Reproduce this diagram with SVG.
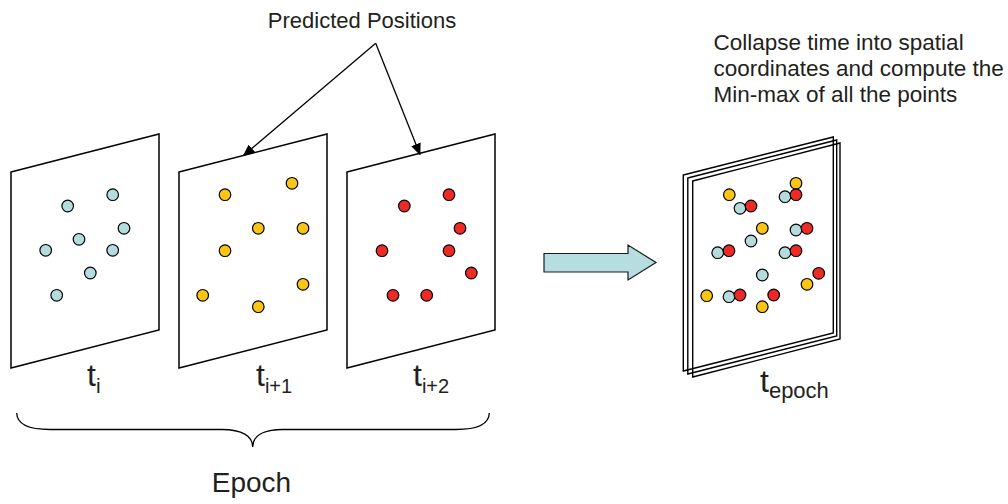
<svg xmlns="http://www.w3.org/2000/svg" width="1008" height="504" viewBox="0 0 1008 504">
  <style>
    .frame { fill: #ffffff; stroke: #000000; stroke-width: 1.5; stroke-linejoin: miter; }
    .stack { fill: none; stroke: #000000; stroke-width: 1.4; }
    .dot { stroke: #000000; stroke-width: 1.2; }
    .b { fill: #b4dcdc; }
    .y { fill: #fcc514; }
    .r { fill: #ed2a25; }
    .lbl { font-family: "Liberation Sans", Arial, sans-serif; fill: #231f20; }
    .pointer { fill: none; stroke: #000000; stroke-width: 1.3; }
  </style>
  <defs>
    <marker id="tip" viewBox="0 0 12 10" refX="11" refY="5" markerWidth="12" markerHeight="10" markerUnits="userSpaceOnUse" orient="auto">
      <path d="M0,0 L12,5 L0,10 Z" fill="#000000"/>
    </marker>
  </defs>
  <rect width="1008" height="504" fill="#ffffff"/>

  <!-- frame at time t_i -->
  <g id="frame-ti">
    <polygon class="frame" points="11,172 159,134 159,330 11,368"/>
    <circle class="dot b" cx="67.7" cy="206" r="5.8"/>
    <circle class="dot b" cx="112.7" cy="194.7" r="5.8"/>
    <circle class="dot b" cx="124" cy="228.3" r="5.8"/>
    <circle class="dot b" cx="79" cy="239.3" r="5.8"/>
    <circle class="dot b" cx="45.7" cy="250.3" r="5.8"/>
    <circle class="dot b" cx="112.7" cy="250.3" r="5.8"/>
    <circle class="dot b" cx="90.3" cy="273" r="5.8"/>
    <circle class="dot b" cx="56.7" cy="295.3" r="5.8"/>
    <text class="lbl" x="87" y="386" font-size="32">t<tspan font-size="21" dy="7">i</tspan></text>
  </g>

  <!-- frame at time t_i+1 -->
  <g id="frame-ti1">
    <polygon class="frame" points="179,172 327,134 327,330 179,368"/>
    <circle class="dot y" cx="225" cy="194.7" r="5.8"/>
    <circle class="dot y" cx="292" cy="183.3" r="5.8"/>
    <circle class="dot y" cx="258.3" cy="228.3" r="5.8"/>
    <circle class="dot y" cx="303" cy="228.3" r="5.8"/>
    <circle class="dot y" cx="225" cy="250.7" r="5.8"/>
    <circle class="dot y" cx="202.7" cy="295.3" r="5.8"/>
    <circle class="dot y" cx="303" cy="284.3" r="5.8"/>
    <circle class="dot y" cx="258.3" cy="306.7" r="5.8"/>
    <text class="lbl" x="256" y="386" font-size="32">t<tspan font-size="20" dy="7">i+1</tspan></text>
  </g>

  <!-- frame at time t_i+2 -->
  <g id="frame-ti2">
    <polygon class="frame" points="347,172 495,134 495,330 347,368"/>
    <circle class="dot r" cx="404.3" cy="206" r="5.8"/>
    <circle class="dot r" cx="449" cy="194.7" r="5.8"/>
    <circle class="dot r" cx="460" cy="228.3" r="5.8"/>
    <circle class="dot r" cx="382" cy="250.7" r="5.8"/>
    <circle class="dot r" cx="449" cy="250.7" r="5.8"/>
    <circle class="dot r" cx="471.3" cy="273" r="5.8"/>
    <circle class="dot r" cx="393" cy="295.3" r="5.8"/>
    <circle class="dot r" cx="426.7" cy="295.3" r="5.8"/>
    <text class="lbl" x="413" y="386" font-size="32">t<tspan font-size="20" dy="7">i+2</tspan></text>
  </g>

  <!-- brace spanning the epoch -->
  <g id="epoch-brace">
    <path class="pointer" d="M16.7,413 C17,424 28,429.5 50,429.5 L222,429.5 C242,429.5 252.7,436 252.7,447 C252.7,436 263,429.5 283,429.5 L456,429.5 C478,429.5 489,424 489.3,413"/>
    <text class="lbl" x="251.5" y="492" font-size="28" text-anchor="middle">Epoch</text>
  </g>

  <!-- caption for predicted positions -->
  <g id="predicted-label">
    <text class="lbl" x="362" y="28" font-size="22" text-anchor="middle">Predicted Positions</text>
  </g>

  <!-- collapse step arrow -->
  <g id="collapse-arrow">
    <polygon points="544,253.5 628,253.5 628,245 656,262.5 628,280 628,272 544,272" fill="#b6dde0" stroke="#1a1a1a" stroke-width="1.2"/>
  </g>

  <!-- collapsed epoch frame -->
  <g id="frame-epoch">
    <polygon class="stack" points="683.3,175 833.3,137 833.3,333 683.3,371"/>
    <polygon class="stack" points="687.8,178 836.7,140 836.7,336 687.8,374"/>
    <polygon class="stack" points="692.7,181 840,143 840,339 692.7,377"/>
    <circle class="dot y" cx="729.3" cy="194.7" r="5.8"/>
    <circle class="dot b" cx="740" cy="208.3" r="5.8"/>
    <circle class="dot r" cx="751" cy="206" r="5.8"/>
    <circle class="dot y" cx="796" cy="183.3" r="5.8"/>
    <circle class="dot b" cx="785" cy="196.7" r="5.8"/>
    <circle class="dot r" cx="796" cy="194.7" r="5.8"/>
    <circle class="dot y" cx="762.3" cy="228.3" r="5.8"/>
    <circle class="dot b" cx="796" cy="230" r="5.8"/>
    <circle class="dot r" cx="807" cy="228.3" r="5.8"/>
    <circle class="dot b" cx="751" cy="241" r="5.8"/>
    <circle class="dot b" cx="717.7" cy="252.7" r="5.8"/>
    <circle class="dot r" cx="729" cy="250.7" r="5.8"/>
    <circle class="dot b" cx="785" cy="252.7" r="5.8"/>
    <circle class="dot r" cx="796" cy="250.7" r="5.8"/>
    <circle class="dot b" cx="762.3" cy="275" r="5.8"/>
    <circle class="dot r" cx="818.7" cy="273.3" r="5.8"/>
    <circle class="dot y" cx="807" cy="284.3" r="5.8"/>
    <circle class="dot y" cx="706.7" cy="295.7" r="5.8"/>
    <circle class="dot b" cx="729" cy="296.7" r="5.8"/>
    <circle class="dot r" cx="740" cy="295" r="5.8"/>
    <circle class="dot r" cx="773.7" cy="295" r="5.8"/>
    <circle class="dot y" cx="762.3" cy="306.7" r="5.8"/>
    <text class="lbl" x="760" y="392" font-size="32">t<tspan font-size="22" dy="5.5">epoch</tspan></text>
  </g>

  <!-- explanation of the collapse step -->
  <g id="collapse-note">
    <text class="lbl" x="713.5" y="50" font-size="22.5">Collapse time into spatial</text>
    <text class="lbl" x="713.5" y="76" font-size="22.5">coordinates and compute the</text>
    <text class="lbl" x="713.5" y="102" font-size="22.5">Min-max of all the points</text>
  </g>

  <!-- pointers from the caption to the predicted frames -->
  <g id="connectors">
    <line class="pointer" x1="375.7" y1="43.3" x2="243.5" y2="155.5" marker-end="url(#tip)"/>
    <line class="pointer" x1="375.7" y1="43.3" x2="420" y2="154.5" marker-end="url(#tip)"/>
  </g>
</svg>
